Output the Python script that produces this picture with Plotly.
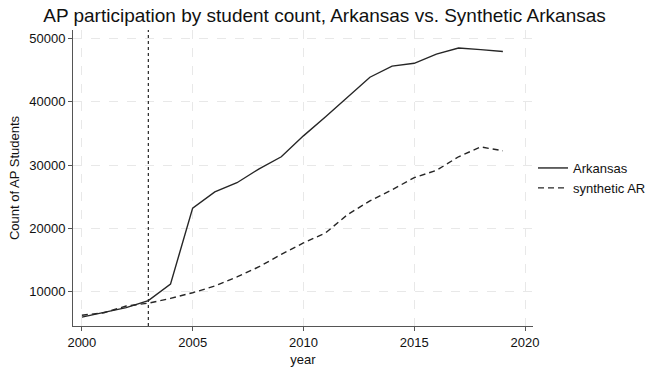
import plotly.graph_objects as go

years = list(range(2000, 2020))
arkansas = [6000, 6700, 7500, 8600, 11200, 23200, 25750, 27200, 29400, 31300,
            34600, 37600, 40800, 43850, 45600, 46050, 47500, 48450, 48200, 47900]
synthetic_ar = [6300, 6700, 7750, 8200, 8950, 9850, 10900, 12350, 13950, 15900,
                17700, 19300, 22200, 24350, 26100, 28000, 29150, 31300, 32850, 32250]
treatment_year = 2003

x_ticks = [2000, 2005, 2010, 2015, 2020]
y_ticks = [10000, 20000, 30000, 40000, 50000]

line_color = "#262626"
font_family = "Liberation Sans, Arial, Helvetica, sans-serif"

fig = go.Figure()
fig.add_trace(go.Scatter(x=years, y=arkansas, mode="lines", name="Arkansas",
                         line=dict(color=line_color, width=1.4)))
fig.add_trace(go.Scatter(x=years, y=synthetic_ar, mode="lines", name="synthetic AR",
                         line=dict(color=line_color, width=1.4, dash="6px,4px")))

fig.add_shape(type="line", x0=treatment_year, x1=treatment_year, xref="x",
              y0=0, y1=1, yref="paper",
              line=dict(color=line_color, width=1.2, dash="dot"))

fig.update_layout(
    width=649, height=373,
    margin=dict(l=73, r=116, t=30, b=47, autoexpand=False),
    paper_bgcolor="white", plot_bgcolor="white",
    font=dict(family=font_family, size=13, color="#111111"),
    title=dict(text="AP participation by student count, Arkansas vs. Synthetic Arkansas",
               x=0.5, xref="container", xanchor="center",
               y=1 - 15 / 373, yref="container", yanchor="middle",
               font=dict(size=19, color="#111111")),
    legend=dict(x=1.0, xanchor="left", y=0.5, yanchor="middle",
                font=dict(size=13), itemwidth=30, bgcolor="rgba(0,0,0,0)",
                tracegroupgap=2),
    showlegend=True,
)

fig.update_xaxes(
    range=[1999.6, 2020.36], tickvals=x_ticks, ticktext=[str(v) for v in x_ticks],
    showline=True, linecolor="#555555", linewidth=1,
    ticks="outside", ticklen=4, tickcolor="#555555",
    showgrid=True, gridcolor="#e8e8e8", griddash="dash", gridwidth=1,
    zeroline=False,
    title=dict(text="year", standoff=6, font=dict(size=13)),
)
fig.update_yaxes(
    range=[4600, 51300], tickvals=y_ticks, ticktext=[str(v) for v in y_ticks],
    showline=True, linecolor="#555555", linewidth=1,
    ticks="outside", ticklen=4, tickcolor="#555555",
    showgrid=True, gridcolor="#e8e8e8", griddash="dash", gridwidth=1,
    zeroline=False,
    title=dict(text="Count of AP Students", standoff=6, font=dict(size=13)),
)

fig.write_html("out.html")
